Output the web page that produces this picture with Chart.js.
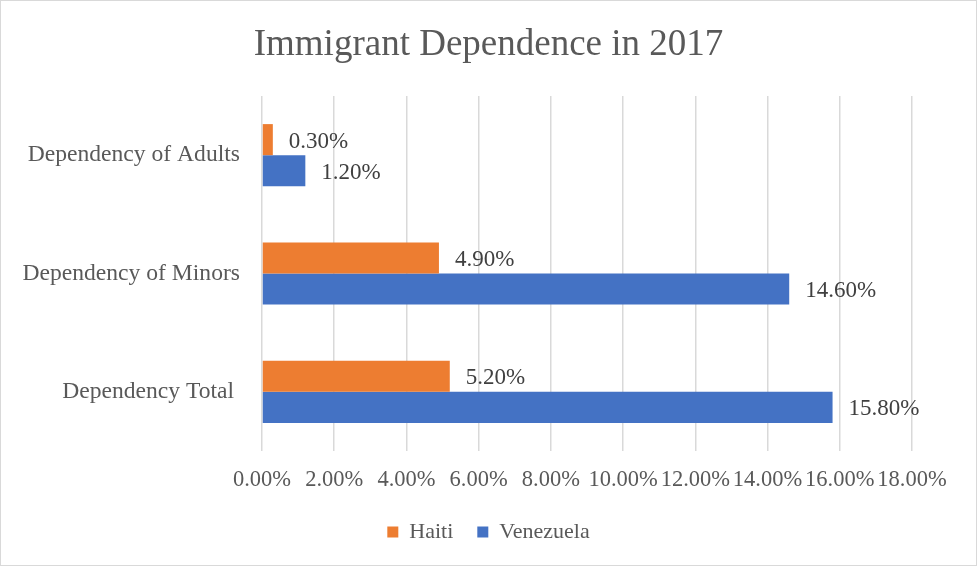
<!DOCTYPE html>
<html>
<head>
<meta charset="utf-8">
<script src="https://cdn.jsdelivr.net/npm/chart.js@4/dist/chart.umd.min.js"></script>
<style>
  html, body { margin: 0; padding: 0; background: #fff; }
  #wrap { position: relative; width: 977px; height: 566px; box-sizing: border-box; border: 1px solid #d9d9d9; }
  canvas { display: block; }
</style>
</head>
<body>
<div id="wrap"><canvas id="c" width="975" height="564"></canvas></div>
<script>
const categories = ['Dependency of Adults', 'Dependency of Minors', 'Dependency Total '];
const haiti = [0.3, 4.9, 5.2];
const venezuela = [1.2, 14.6, 15.8];
const xTicks = { min: 0, max: 18, step: 2 };

const FONT = "'Liberation Serif', 'Times New Roman', serif";
const TEXT = '#595959';

const fmt = v => v.toFixed(2) + '%';

// Value labels just past the end of each bar
const valueLabels = {
  id: 'valueLabels',
  afterDatasetsDraw(chart) {
    const ctx = chart.ctx;
    ctx.save();
    ctx.font = '23px ' + FONT;
    ctx.fillStyle = '#404040';
    ctx.textAlign = 'left';
    ctx.textBaseline = 'middle';
    chart.data.datasets.forEach((ds, i) => {
      chart.getDatasetMeta(i).data.forEach((bar, j) => {
        ctx.fillText(fmt(ds.data[j]), bar.x + 16, bar.y + 2);
      });
    });
    ctx.restore();
  }
};

new Chart(document.getElementById('c'), {
  type: 'bar',
  data: {
    labels: categories,
    datasets: [
      { label: 'Haiti', data: haiti, backgroundColor: '#ED7D31' },
      { label: 'Venezuela', data: venezuela, backgroundColor: '#4472C4' }
    ]
  },
  options: {
    indexAxis: 'y',
    responsive: false,
    animation: false,
    devicePixelRatio: 1,
    categoryPercentage: 0.525,
    barPercentage: 1.0,
    layout: { padding: { left: 0, right: 0, top: 0, bottom: 12 } },
    plugins: {
      title: {
        display: true,
        text: 'Immigrant Dependence in 2017',
        color: TEXT,
        font: { family: FONT, size: 37, weight: 'normal' },
        padding: { top: 22, bottom: 28.6 }
      },
      legend: {
        position: 'bottom',
        labels: {
          color: TEXT,
          font: { family: FONT, size: 22 },
          boxWidth: 11,
          boxHeight: 11,
          padding: 24
        }
      },
      tooltip: { enabled: false }
    },
    scales: {
      x: {
        min: xTicks.min,
        max: xTicks.max,
        grid: { color: '#d9d9d9', lineWidth: 1.5, drawTicks: false },
        border: { display: false },
        ticks: {
          stepSize: xTicks.step,
          color: TEXT,
          font: { family: FONT, size: 22.5 },
          padding: 16,
          maxRotation: 0,
          autoSkip: false,
          callback: v => fmt(v)
        },
        afterFit: s => { s.height = 46; }
      },
      y: {
        grid: { display: false, drawTicks: false },
        border: { display: false },
        ticks: {
          color: TEXT,
          font: { family: FONT, size: 23.6 },
          padding: 22
        },
        afterFit: s => { s.width = 261; }
      },
      // empty margin on the right of the plot area
      yRight: {
        type: 'linear',
        position: 'right',
        display: true,
        grid: { display: false, drawTicks: false },
        border: { display: false },
        ticks: { display: false },
        afterFit: s => { s.width = 64; }
      }
    }
  },
  plugins: [valueLabels]
});
</script>
</body>
</html>
